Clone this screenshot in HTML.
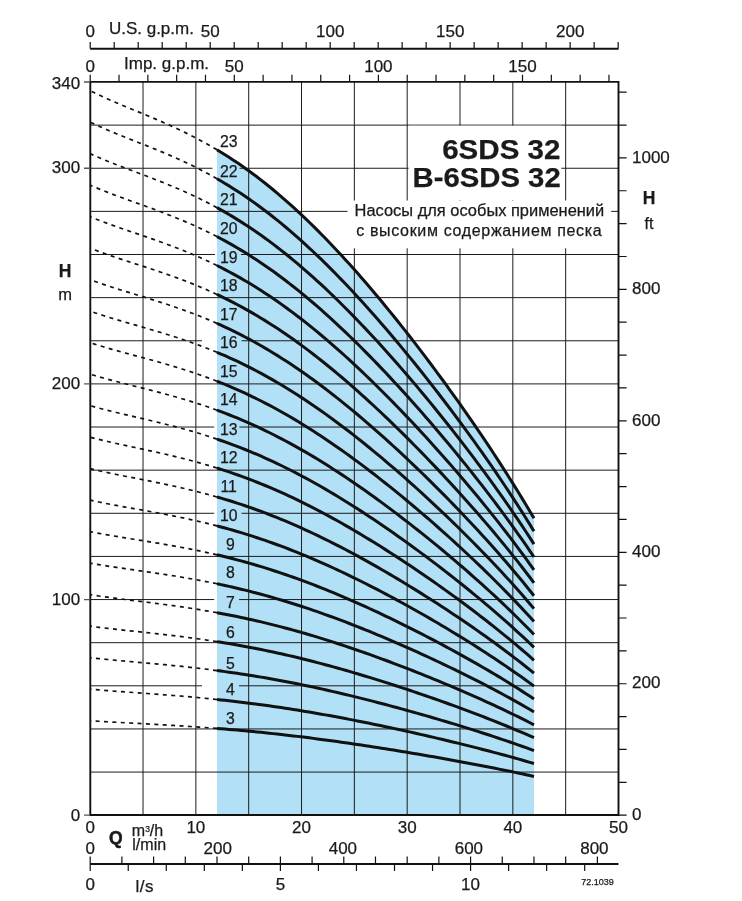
<!DOCTYPE html><html><head><meta charset="utf-8"><style>html,body{margin:0;padding:0;background:#fff}svg{display:block;will-change:transform}text{stroke:#1a1a1a;stroke-width:0.25px}</style></head><body><svg width="742" height="901" viewBox="0 0 742 901" font-family="'Liberation Sans', Arial, Helvetica, sans-serif" fill="#1a1a1a">
<rect width="742" height="901" fill="#fff"/>
<path d="M216.99,815.20 L216.99,149.80 L219.66,151.41 L222.32,153.05 L224.98,154.71 L227.65,156.40 L230.31,158.12 L232.97,159.87 L235.64,161.64 L238.30,163.45 L240.97,165.28 L243.63,167.14 L246.29,169.03 L248.96,170.96 L251.62,172.91 L254.28,174.88 L256.95,176.89 L259.61,178.93 L262.27,181.00 L264.94,183.10 L267.60,185.22 L270.27,187.38 L272.93,189.56 L275.59,191.78 L278.26,194.02 L280.92,196.29 L283.58,198.60 L286.25,200.93 L288.91,203.28 L291.58,205.67 L294.24,208.09 L296.90,210.53 L299.57,213.00 L302.23,215.50 L304.89,218.03 L307.56,220.58 L310.22,223.16 L312.89,225.77 L315.55,228.40 L318.21,231.06 L320.88,233.75 L323.54,236.46 L326.20,239.20 L328.87,241.96 L331.53,244.75 L334.19,247.56 L336.86,250.40 L339.52,253.26 L342.19,256.14 L344.85,259.05 L347.51,261.98 L350.18,264.94 L352.84,267.92 L355.50,270.92 L358.17,273.94 L360.83,276.98 L363.50,280.05 L366.16,283.13 L368.82,286.24 L371.49,289.37 L374.15,292.52 L376.81,295.69 L379.48,298.88 L382.14,302.09 L384.80,305.32 L387.47,308.57 L390.13,311.84 L392.80,315.13 L395.46,318.44 L398.12,321.76 L400.79,325.11 L403.45,328.47 L406.11,331.85 L408.78,335.25 L411.44,338.67 L414.11,342.11 L416.77,345.56 L419.43,349.03 L422.10,352.52 L424.76,356.03 L427.42,359.56 L430.09,363.10 L432.75,366.66 L435.42,370.24 L438.08,373.84 L440.74,377.46 L443.41,381.10 L446.07,384.75 L448.73,388.42 L451.40,392.11 L454.06,395.82 L456.72,399.55 L459.39,403.30 L462.05,407.07 L464.72,410.86 L467.38,414.67 L470.04,418.51 L472.71,422.36 L475.37,426.23 L478.03,430.13 L480.70,434.05 L483.36,437.99 L486.03,441.96 L488.69,445.95 L491.35,449.97 L494.02,454.01 L496.68,458.08 L499.34,462.17 L502.01,466.30 L504.67,470.45 L507.34,474.63 L510.00,478.84 L512.66,483.08 L515.33,487.36 L517.99,491.66 L520.65,496.01 L523.32,500.38 L525.98,504.80 L528.64,509.25 L531.31,513.73 L533.97,518.26 L533.97,815.20 Z" fill="#b2e0f6"/>
<path d="M143.03,81.99V815.20M195.86,81.99V815.20M248.69,81.99V815.20M301.52,81.99V815.20M354.35,81.99V815.20M407.18,81.99V815.20M460.01,81.99V815.20M512.84,81.99V815.20M565.67,81.99V815.20M90.20,772.07H618.50M90.20,728.94H618.50M90.20,685.81H618.50M90.20,642.68H618.50M90.20,599.55H618.50M90.20,556.42H618.50M90.20,513.29H618.50M90.20,470.16H618.50M90.20,427.03H618.50M90.20,383.90H618.50M90.20,340.77H618.50M90.20,297.64H618.50M90.20,254.51H618.50M90.20,211.38H618.50M90.20,168.25H618.50M90.20,125.12H618.50" stroke="#1c1c1c" stroke-width="1" fill="none"/>
<rect x="408.6" y="125.7" width="152.7" height="74.3" fill="#fff"/>
<rect x="347.5" y="200.5" width="263.7" height="47.8" fill="#fff"/>
<rect x="212.5" y="165.5" width="4.49" height="12.300000000000011" fill="#fff"/>
<rect x="216.99" y="165.5" width="22.51" height="12.300000000000011" fill="#b2e0f6"/>
<rect x="215" y="252.0" width="1.99" height="12.0" fill="#fff"/>
<rect x="216.99" y="252.0" width="24.01" height="12.0" fill="#b2e0f6"/>
<rect x="202" y="335.9" width="14.99" height="13.0" fill="#fff"/>
<rect x="216.99" y="335.9" width="24.61" height="13.0" fill="#b2e0f6"/>
<rect x="214.2" y="423.0" width="2.79" height="12.699999999999989" fill="#fff"/>
<rect x="216.99" y="423.0" width="22.41" height="12.699999999999989" fill="#b2e0f6"/>
<rect x="214.2" y="509.0" width="2.79" height="12.700000000000045" fill="#fff"/>
<rect x="216.99" y="509.0" width="24.61" height="12.700000000000045" fill="#b2e0f6"/>
<rect x="214.2" y="596.1" width="2.79" height="12.699999999999932" fill="#fff"/>
<rect x="216.99" y="596.1" width="22.11" height="12.699999999999932" fill="#b2e0f6"/>
<rect x="202" y="683.3" width="14.99" height="12.5" fill="#fff"/>
<rect x="216.99" y="683.3" width="22.01" height="12.5" fill="#b2e0f6"/>
<path d="M216.99,728.41 L212.62,728.07 L208.25,727.74 L203.88,727.43 L199.50,727.12 L195.13,726.81 L190.76,726.52 L186.39,726.23 L182.01,725.96 L177.64,725.68 L173.27,725.42 L168.90,725.16 L164.53,724.90 L160.15,724.66 L155.78,724.41 L151.41,724.17 L147.04,723.93 L142.67,723.69 L138.29,723.46 L133.92,723.22 L129.55,722.99 L125.18,722.75 L120.80,722.51 L116.43,722.27 L112.06,722.03 L107.69,721.77 L103.32,721.52 L98.94,721.25 L94.57,720.98 L90.20,720.70 M216.99,699.48 L212.62,699.03 L208.25,698.59 L203.88,698.17 L199.50,697.75 L195.13,697.35 L190.76,696.96 L186.39,696.58 L182.01,696.21 L177.64,695.85 L173.27,695.49 L168.90,695.15 L164.53,694.81 L160.15,694.47 L155.78,694.15 L151.41,693.82 L147.04,693.51 L142.67,693.19 L138.29,692.88 L133.92,692.56 L129.55,692.25 L125.18,691.93 L120.80,691.62 L116.43,691.29 L112.06,690.97 L107.69,690.63 L103.32,690.29 L98.94,689.94 L94.57,689.57 L90.20,689.20 M216.99,670.55 L212.62,669.99 L208.25,669.44 L203.88,668.91 L199.50,668.39 L195.13,667.89 L190.76,667.40 L186.39,666.92 L182.01,666.46 L177.64,666.01 L173.27,665.56 L168.90,665.13 L164.53,664.71 L160.15,664.29 L155.78,663.88 L151.41,663.48 L147.04,663.08 L142.67,662.69 L138.29,662.30 L133.92,661.90 L129.55,661.51 L125.18,661.12 L120.80,660.72 L116.43,660.32 L112.06,659.91 L107.69,659.49 L103.32,659.06 L98.94,658.62 L94.57,658.17 L90.20,657.69 M216.99,641.62 L212.62,640.94 L208.25,640.29 L203.88,639.65 L199.50,639.03 L195.13,638.43 L190.76,637.84 L186.39,637.27 L182.01,636.71 L177.64,636.17 L173.27,635.64 L168.90,635.12 L164.53,634.61 L160.15,634.11 L155.78,633.62 L151.41,633.14 L147.04,632.66 L142.67,632.18 L138.29,631.71 L133.92,631.24 L129.55,630.77 L125.18,630.30 L120.80,629.83 L116.43,629.34 L112.06,628.85 L107.69,628.35 L103.32,627.84 L98.94,627.31 L94.57,626.76 L90.20,626.19 M216.99,612.69 L212.62,611.90 L208.25,611.14 L203.88,610.39 L199.50,609.67 L195.13,608.97 L190.76,608.28 L186.39,607.61 L182.01,606.96 L177.64,606.33 L173.27,605.71 L168.90,605.10 L164.53,604.51 L160.15,603.93 L155.78,603.36 L151.41,602.79 L147.04,602.23 L142.67,601.68 L138.29,601.13 L133.92,600.59 L129.55,600.04 L125.18,599.49 L120.80,598.93 L116.43,598.37 L112.06,597.79 L107.69,597.21 L103.32,596.61 L98.94,595.99 L94.57,595.35 L90.20,594.69 M216.99,583.76 L212.62,582.86 L208.25,581.99 L203.88,581.14 L199.50,580.31 L195.13,579.50 L190.76,578.72 L186.39,577.96 L182.01,577.22 L177.64,576.49 L173.27,575.78 L168.90,575.09 L164.53,574.41 L160.15,573.75 L155.78,573.09 L151.41,572.45 L147.04,571.81 L142.67,571.18 L138.29,570.55 L133.92,569.93 L129.55,569.30 L125.18,568.67 L120.80,568.03 L116.43,567.39 L112.06,566.73 L107.69,566.07 L103.32,565.38 L98.94,564.68 L94.57,563.95 L90.20,563.19 M216.99,554.83 L212.62,553.82 L208.25,552.83 L203.88,551.88 L199.50,550.95 L195.13,550.04 L190.76,549.16 L186.39,548.30 L182.01,547.47 L177.64,546.65 L173.27,545.86 L168.90,545.08 L164.53,544.31 L160.15,543.57 L155.78,542.83 L151.41,542.10 L147.04,541.39 L142.67,540.68 L138.29,539.97 L133.92,539.27 L129.55,538.56 L125.18,537.85 L120.80,537.14 L116.43,536.41 L112.06,535.68 L107.69,534.92 L103.32,534.15 L98.94,533.36 L94.57,532.54 L90.20,531.69 M216.99,525.90 L212.62,524.77 L208.25,523.68 L203.88,522.62 L199.50,521.59 L195.13,520.58 L190.76,519.60 L186.39,518.65 L182.01,517.72 L177.64,516.81 L173.27,515.93 L168.90,515.06 L164.53,514.22 L160.15,513.38 L155.78,512.57 L151.41,511.76 L147.04,510.96 L142.67,510.17 L138.29,509.39 L133.92,508.61 L129.55,507.82 L125.18,507.04 L120.80,506.24 L116.43,505.44 L112.06,504.62 L107.69,503.78 L103.32,502.93 L98.94,502.04 L94.57,501.13 L90.20,500.19 M216.99,496.97 L212.62,495.73 L208.25,494.53 L203.88,493.36 L199.50,492.22 L195.13,491.12 L190.76,490.04 L186.39,488.99 L182.01,487.97 L177.64,486.97 L173.27,486.00 L168.90,485.05 L164.53,484.12 L160.15,483.20 L155.78,482.30 L151.41,481.42 L147.04,480.54 L142.67,479.67 L138.29,478.81 L133.92,477.95 L129.55,477.09 L125.18,476.22 L120.80,475.35 L116.43,474.46 L112.06,473.56 L107.69,472.64 L103.32,471.70 L98.94,470.73 L94.57,469.73 L90.20,468.69 M216.99,468.04 L212.62,466.69 L208.25,465.38 L203.88,464.10 L199.50,462.86 L195.13,461.66 L190.76,460.48 L186.39,459.34 L182.01,458.22 L177.64,457.14 L173.27,456.07 L168.90,455.04 L164.53,454.02 L160.15,453.02 L155.78,452.04 L151.41,451.07 L147.04,450.12 L142.67,449.17 L138.29,448.23 L133.92,447.29 L129.55,446.35 L125.18,445.40 L120.80,444.45 L116.43,443.48 L112.06,442.50 L107.69,441.50 L103.32,440.47 L98.94,439.41 L94.57,438.32 L90.20,437.19 M216.99,439.11 L212.62,437.65 L208.25,436.23 L203.88,434.84 L199.50,433.50 L195.13,432.19 L190.76,430.92 L186.39,429.68 L182.01,428.47 L177.64,427.30 L173.27,426.15 L168.90,425.02 L164.53,423.92 L160.15,422.84 L155.78,421.78 L151.41,420.73 L147.04,419.69 L142.67,418.67 L138.29,417.65 L133.92,416.63 L129.55,415.61 L125.18,414.59 L120.80,413.55 L116.43,412.51 L112.06,411.44 L107.69,410.36 L103.32,409.24 L98.94,408.10 L94.57,406.91 L90.20,405.69 M216.99,410.18 L212.62,408.60 L208.25,407.07 L203.88,405.59 L199.50,404.14 L195.13,402.73 L190.76,401.36 L186.39,400.03 L182.01,398.73 L177.64,397.46 L173.27,396.22 L168.90,395.01 L164.53,393.82 L160.15,392.66 L155.78,391.51 L151.41,390.38 L147.04,389.27 L142.67,388.16 L138.29,387.07 L133.92,385.97 L129.55,384.87 L125.18,383.77 L120.80,382.66 L116.43,381.53 L112.06,380.39 L107.69,379.22 L103.32,378.02 L98.94,376.78 L94.57,375.51 L90.20,374.19 M216.99,381.24 L212.62,379.56 L208.25,377.92 L203.88,376.33 L199.50,374.78 L195.13,373.27 L190.76,371.80 L186.39,370.37 L182.01,368.98 L177.64,367.62 L173.27,366.29 L168.90,364.99 L164.53,363.72 L160.15,362.48 L155.78,361.25 L151.41,360.04 L147.04,358.85 L142.67,357.66 L138.29,356.49 L133.92,355.31 L129.55,354.14 L125.18,352.95 L120.80,351.76 L116.43,350.56 L112.06,349.33 L107.69,348.07 L103.32,346.79 L98.94,345.47 L94.57,344.10 L90.20,342.68 M216.99,352.31 L212.62,350.52 L208.25,348.77 L203.88,347.07 L199.50,345.42 L195.13,343.81 L190.76,342.24 L186.39,340.72 L182.01,339.23 L177.64,337.78 L173.27,336.36 L168.90,334.98 L164.53,333.62 L160.15,332.29 L155.78,330.99 L151.41,329.70 L147.04,328.42 L142.67,327.16 L138.29,325.90 L133.92,324.65 L129.55,323.40 L125.18,322.14 L120.80,320.87 L116.43,319.58 L112.06,318.27 L107.69,316.93 L103.32,315.56 L98.94,314.15 L94.57,312.69 L90.20,311.18 M216.99,323.38 L212.62,321.48 L208.25,319.62 L203.88,317.81 L199.50,316.06 L195.13,314.35 L190.76,312.68 L186.39,311.06 L182.01,309.48 L177.64,307.94 L173.27,306.44 L168.90,304.97 L164.53,303.53 L160.15,302.11 L155.78,300.72 L151.41,299.35 L147.04,298.00 L142.67,296.66 L138.29,295.32 L133.92,293.99 L129.55,292.66 L125.18,291.32 L120.80,289.97 L116.43,288.60 L112.06,287.21 L107.69,285.79 L103.32,284.33 L98.94,282.84 L94.57,281.29 L90.20,279.68 M216.99,294.45 L212.62,292.43 L208.25,290.47 L203.88,288.55 L199.50,286.69 L195.13,284.88 L190.76,283.12 L186.39,281.41 L182.01,279.73 L177.64,278.10 L173.27,276.51 L168.90,274.95 L164.53,273.43 L160.15,271.93 L155.78,270.46 L151.41,269.01 L147.04,267.58 L142.67,266.15 L138.29,264.74 L133.92,263.33 L129.55,261.92 L125.18,260.51 L120.80,259.08 L116.43,257.63 L112.06,256.15 L107.69,254.65 L103.32,253.11 L98.94,251.52 L94.57,249.88 L90.20,248.18 M216.99,265.52 L212.62,263.39 L208.25,261.31 L203.88,259.30 L199.50,257.33 L195.13,255.42 L190.76,253.56 L186.39,251.75 L182.01,249.99 L177.64,248.26 L173.27,246.58 L168.90,244.94 L164.53,243.33 L160.15,241.75 L155.78,240.20 L151.41,238.66 L147.04,237.15 L142.67,235.65 L138.29,234.16 L133.92,232.67 L129.55,231.19 L125.18,229.69 L120.80,228.18 L116.43,226.65 L112.06,225.09 L107.69,223.51 L103.32,221.88 L98.94,220.20 L94.57,218.47 L90.20,216.68 M216.99,236.59 L212.62,234.35 L208.25,232.16 L203.88,230.04 L199.50,227.97 L195.13,225.96 L190.76,224.00 L186.39,222.10 L182.01,220.24 L177.64,218.43 L173.27,216.66 L168.90,214.93 L164.53,213.23 L160.15,211.57 L155.78,209.93 L151.41,208.32 L147.04,206.73 L142.67,205.15 L138.29,203.58 L133.92,202.01 L129.55,200.45 L125.18,198.87 L120.80,197.28 L116.43,195.67 L112.06,194.04 L107.69,192.37 L103.32,190.65 L98.94,188.89 L94.57,187.07 L90.20,185.18 M216.99,207.66 L212.62,205.30 L208.25,203.01 L203.88,200.78 L199.50,198.61 L195.13,196.50 L190.76,194.44 L186.39,192.44 L182.01,190.49 L177.64,188.59 L173.27,186.73 L168.90,184.91 L164.53,183.13 L160.15,181.39 L155.78,179.67 L151.41,177.98 L147.04,176.30 L142.67,174.65 L138.29,173.00 L133.92,171.36 L129.55,169.71 L125.18,168.06 L120.80,166.39 L116.43,164.70 L112.06,162.98 L107.69,161.22 L103.32,159.42 L98.94,157.57 L94.57,155.66 L90.20,153.68 M216.99,178.73 L212.62,176.26 L208.25,173.86 L203.88,171.52 L199.50,169.25 L195.13,167.04 L190.76,164.88 L186.39,162.79 L182.01,160.74 L177.64,158.75 L173.27,156.80 L168.90,154.90 L164.53,153.03 L160.15,151.20 L155.78,149.41 L151.41,147.63 L147.04,145.88 L142.67,144.14 L138.29,142.42 L133.92,140.70 L129.55,138.97 L125.18,137.24 L120.80,135.49 L116.43,133.72 L112.06,131.92 L107.69,130.08 L103.32,128.20 L98.94,126.26 L94.57,124.25 L90.20,122.18 M216.99,149.80 L212.62,147.22 L208.25,144.71 L203.88,142.26 L199.50,139.89 L195.13,137.57 L190.76,135.32 L186.39,133.13 L182.01,130.99 L177.64,128.91 L173.27,126.87 L168.90,124.88 L164.53,122.93 L160.15,121.02 L155.78,119.14 L151.41,117.29 L147.04,115.46 L142.67,113.64 L138.29,111.84 L133.92,110.04 L129.55,108.23 L125.18,106.42 L120.80,104.60 L116.43,102.74 L112.06,100.86 L107.69,98.94 L103.32,96.97 L98.94,94.94 L94.57,92.85 L90.20,90.68" stroke="#111" stroke-width="1.7" fill="none" stroke-dasharray="4 4.4"/>
<path d="M216.99,728.41 L221.00,728.73 L225.02,729.05 L229.03,729.39 L233.04,729.73 L237.05,730.08 L241.07,730.44 L245.08,730.80 L249.09,731.18 L253.10,731.57 L257.12,731.96 L261.13,732.36 L265.14,732.77 L269.15,733.19 L273.17,733.62 L277.18,734.06 L281.19,734.50 L285.20,734.96 L289.22,735.42 L293.23,735.89 L297.24,736.37 L301.25,736.86 L305.26,737.35 L309.28,737.86 L313.29,738.37 L317.30,738.89 L321.31,739.42 L325.33,739.95 L329.34,740.49 L333.35,741.04 L337.36,741.60 L341.38,742.16 L345.39,742.74 L349.40,743.31 L353.41,743.90 L357.43,744.49 L361.44,745.09 L365.45,745.69 L369.46,746.30 L373.48,746.92 L377.49,747.54 L381.50,748.17 L385.51,748.81 L389.53,749.45 L393.54,750.09 L397.55,750.75 L401.56,751.40 L405.58,752.07 L409.59,752.73 L413.60,753.41 L417.61,754.09 L421.62,754.77 L425.64,755.46 L429.65,756.15 L433.66,756.85 L437.67,757.56 L441.69,758.27 L445.70,758.99 L449.71,759.71 L453.72,760.44 L457.74,761.17 L461.75,761.91 L465.76,762.66 L469.77,763.41 L473.79,764.16 L477.80,764.93 L481.81,765.70 L485.82,766.48 L489.84,767.26 L493.85,768.05 L497.86,768.85 L501.87,769.66 L505.89,770.48 L509.90,771.31 L513.91,772.14 L517.92,772.99 L521.93,773.84 L525.95,774.71 L529.96,775.58 L533.97,776.47 M216.99,699.48 L221.00,699.90 L225.02,700.34 L229.03,700.78 L233.04,701.24 L237.05,701.70 L241.07,702.18 L245.08,702.67 L249.09,703.17 L253.10,703.69 L257.12,704.21 L261.13,704.75 L265.14,705.30 L269.15,705.86 L273.17,706.43 L277.18,707.01 L281.19,707.60 L285.20,708.21 L289.22,708.83 L293.23,709.45 L297.24,710.09 L301.25,710.74 L305.26,711.41 L309.28,712.08 L313.29,712.76 L317.30,713.45 L321.31,714.16 L325.33,714.87 L329.34,715.59 L333.35,716.32 L337.36,717.07 L341.38,717.82 L345.39,718.58 L349.40,719.35 L353.41,720.13 L357.43,720.92 L361.44,721.72 L365.45,722.52 L369.46,723.34 L373.48,724.16 L377.49,724.99 L381.50,725.83 L385.51,726.68 L389.53,727.53 L393.54,728.39 L397.55,729.26 L401.56,730.14 L405.58,731.02 L409.59,731.91 L413.60,732.81 L417.61,733.71 L421.62,734.63 L425.64,735.55 L429.65,736.47 L433.66,737.41 L437.67,738.35 L441.69,739.30 L445.70,740.25 L449.71,741.21 L453.72,742.18 L457.74,743.16 L461.75,744.15 L465.76,745.14 L469.77,746.14 L473.79,747.15 L477.80,748.17 L481.81,749.20 L485.82,750.24 L489.84,751.28 L493.85,752.34 L497.86,753.41 L501.87,754.48 L505.89,755.57 L509.90,756.67 L513.91,757.79 L517.92,758.91 L521.93,760.05 L525.95,761.21 L529.96,762.38 L533.97,763.56 M216.99,670.55 L221.00,671.08 L225.02,671.62 L229.03,672.18 L233.04,672.75 L237.05,673.33 L241.07,673.93 L245.08,674.54 L249.09,675.17 L253.10,675.81 L257.12,676.47 L261.13,677.14 L265.14,677.82 L269.15,678.52 L273.17,679.23 L277.18,679.96 L281.19,680.71 L285.20,681.46 L289.22,682.23 L293.23,683.02 L297.24,683.82 L301.25,684.63 L305.26,685.46 L309.28,686.30 L313.29,687.15 L317.30,688.02 L321.31,688.89 L325.33,689.79 L329.34,690.69 L333.35,691.61 L337.36,692.53 L341.38,693.47 L345.39,694.43 L349.40,695.39 L353.41,696.37 L357.43,697.35 L361.44,698.35 L365.45,699.35 L369.46,700.37 L373.48,701.40 L377.49,702.44 L381.50,703.49 L385.51,704.54 L389.53,705.61 L393.54,706.69 L397.55,707.78 L401.56,708.87 L405.58,709.98 L409.59,711.09 L413.60,712.21 L417.61,713.34 L421.62,714.48 L425.64,715.63 L429.65,716.79 L433.66,717.96 L437.67,719.13 L441.69,720.32 L445.70,721.51 L449.71,722.72 L453.72,723.93 L457.74,725.15 L461.75,726.38 L465.76,727.63 L469.77,728.88 L473.79,730.14 L477.80,731.41 L481.81,732.70 L485.82,734.00 L489.84,735.30 L493.85,736.62 L497.86,737.96 L501.87,739.31 L505.89,740.67 L509.90,742.04 L513.91,743.43 L517.92,744.84 L521.93,746.27 L525.95,747.71 L529.96,749.17 L533.97,750.65 M216.99,641.62 L221.00,642.25 L225.02,642.90 L229.03,643.57 L233.04,644.26 L237.05,644.96 L241.07,645.67 L245.08,646.41 L249.09,647.16 L253.10,647.93 L257.12,648.72 L261.13,649.52 L265.14,650.35 L269.15,651.18 L273.17,652.04 L277.18,652.92 L281.19,653.81 L285.20,654.71 L289.22,655.64 L293.23,656.58 L297.24,657.54 L301.25,658.52 L305.26,659.51 L309.28,660.52 L313.29,661.54 L317.30,662.58 L321.31,663.63 L325.33,664.70 L329.34,665.79 L333.35,666.89 L337.36,668.00 L341.38,669.13 L345.39,670.27 L349.40,671.43 L353.41,672.60 L357.43,673.78 L361.44,674.98 L365.45,676.19 L369.46,677.41 L373.48,678.64 L377.49,679.89 L381.50,681.14 L385.51,682.41 L389.53,683.69 L393.54,684.99 L397.55,686.29 L401.56,687.60 L405.58,688.93 L409.59,690.27 L413.60,691.61 L417.61,692.97 L421.62,694.34 L425.64,695.72 L429.65,697.11 L433.66,698.51 L437.67,699.92 L441.69,701.34 L445.70,702.78 L449.71,704.22 L453.72,705.67 L457.74,707.14 L461.75,708.62 L465.76,710.11 L469.77,711.61 L473.79,713.13 L477.80,714.66 L481.81,716.20 L485.82,717.75 L489.84,719.32 L493.85,720.91 L497.86,722.51 L501.87,724.13 L505.89,725.76 L509.90,727.41 L513.91,729.08 L517.92,730.77 L521.93,732.48 L525.95,734.21 L529.96,735.96 L533.97,737.74 M216.99,612.69 L221.00,613.43 L225.02,614.19 L229.03,614.97 L233.04,615.76 L237.05,616.58 L241.07,617.42 L245.08,618.28 L249.09,619.16 L253.10,620.05 L257.12,620.97 L261.13,621.91 L265.14,622.87 L269.15,623.85 L273.17,624.85 L277.18,625.87 L281.19,626.91 L285.20,627.97 L289.22,629.05 L293.23,630.15 L297.24,631.26 L301.25,632.40 L305.26,633.56 L309.28,634.73 L313.29,635.93 L317.30,637.14 L321.31,638.37 L325.33,639.62 L329.34,640.89 L333.35,642.17 L337.36,643.47 L341.38,644.78 L345.39,646.12 L349.40,647.47 L353.41,648.83 L357.43,650.21 L361.44,651.61 L365.45,653.02 L369.46,654.44 L373.48,655.88 L377.49,657.33 L381.50,658.80 L385.51,660.28 L389.53,661.78 L393.54,663.28 L397.55,664.81 L401.56,666.34 L405.58,667.89 L409.59,669.44 L413.60,671.02 L417.61,672.60 L421.62,674.20 L425.64,675.81 L429.65,677.43 L433.66,679.06 L437.67,680.71 L441.69,682.37 L445.70,684.04 L449.71,685.72 L453.72,687.42 L457.74,689.13 L461.75,690.86 L465.76,692.60 L469.77,694.35 L473.79,696.12 L477.80,697.90 L481.81,699.70 L485.82,701.51 L489.84,703.34 L493.85,705.19 L497.86,707.06 L501.87,708.95 L505.89,710.85 L509.90,712.78 L513.91,714.73 L517.92,716.70 L521.93,718.69 L525.95,720.71 L529.96,722.76 L533.97,724.83 M216.99,583.76 L221.00,584.60 L225.02,585.47 L229.03,586.36 L233.04,587.27 L237.05,588.21 L241.07,589.17 L245.08,590.15 L249.09,591.15 L253.10,592.18 L257.12,593.22 L261.13,594.30 L265.14,595.39 L269.15,596.51 L273.17,597.66 L277.18,598.82 L281.19,600.01 L285.20,601.22 L289.22,602.45 L293.23,603.71 L297.24,604.99 L301.25,606.29 L305.26,607.61 L309.28,608.95 L313.29,610.32 L317.30,611.70 L321.31,613.11 L325.33,614.54 L329.34,615.98 L333.35,617.45 L337.36,618.94 L341.38,620.44 L345.39,621.96 L349.40,623.50 L353.41,625.06 L357.43,626.64 L361.44,628.24 L365.45,629.85 L369.46,631.48 L373.48,633.12 L377.49,634.78 L381.50,636.46 L385.51,638.15 L389.53,639.86 L393.54,641.58 L397.55,643.32 L401.56,645.07 L405.58,646.84 L409.59,648.62 L413.60,650.42 L417.61,652.23 L421.62,654.05 L425.64,655.89 L429.65,657.75 L433.66,659.61 L437.67,661.49 L441.69,663.39 L445.70,665.30 L449.71,667.23 L453.72,669.17 L457.74,671.12 L461.75,673.09 L465.76,675.08 L469.77,677.08 L473.79,679.10 L477.80,681.14 L481.81,683.20 L485.82,685.27 L489.84,687.37 L493.85,689.48 L497.86,691.61 L501.87,693.77 L505.89,695.95 L509.90,698.15 L513.91,700.38 L517.92,702.63 L521.93,704.91 L525.95,707.21 L529.96,709.55 L533.97,711.92 M216.99,554.83 L221.00,555.78 L225.02,556.76 L229.03,557.76 L233.04,558.78 L237.05,559.83 L241.07,560.91 L245.08,562.01 L249.09,563.14 L253.10,564.30 L257.12,565.48 L261.13,566.68 L265.14,567.92 L269.15,569.18 L273.17,570.46 L277.18,571.77 L281.19,573.11 L285.20,574.47 L289.22,575.86 L293.23,577.27 L297.24,578.71 L301.25,580.17 L305.26,581.66 L309.28,583.17 L313.29,584.71 L317.30,586.27 L321.31,587.85 L325.33,589.45 L329.34,591.08 L333.35,592.73 L337.36,594.40 L341.38,596.09 L345.39,597.81 L349.40,599.54 L353.41,601.30 L357.43,603.07 L361.44,604.87 L365.45,606.68 L369.46,608.51 L373.48,610.36 L377.49,612.23 L381.50,614.12 L385.51,616.02 L389.53,617.94 L393.54,619.88 L397.55,621.84 L401.56,623.81 L405.58,625.80 L409.59,627.80 L413.60,629.82 L417.61,631.86 L421.62,633.91 L425.64,635.98 L429.65,638.06 L433.66,640.16 L437.67,642.28 L441.69,644.41 L445.70,646.56 L449.71,648.73 L453.72,650.91 L457.74,653.11 L461.75,655.33 L465.76,657.57 L469.77,659.82 L473.79,662.09 L477.80,664.39 L481.81,666.70 L485.82,669.03 L489.84,671.39 L493.85,673.76 L497.86,676.16 L501.87,678.59 L505.89,681.04 L509.90,683.52 L513.91,686.02 L517.92,688.56 L521.93,691.12 L525.95,693.72 L529.96,696.34 L533.97,699.01 M216.99,525.90 L221.00,526.95 L225.02,528.04 L229.03,529.15 L233.04,530.29 L237.05,531.46 L241.07,532.66 L245.08,533.88 L249.09,535.14 L253.10,536.42 L257.12,537.73 L261.13,539.07 L265.14,540.44 L269.15,541.84 L273.17,543.27 L277.18,544.73 L281.19,546.21 L285.20,547.72 L289.22,549.27 L293.23,550.84 L297.24,552.44 L301.25,554.06 L305.26,555.71 L309.28,557.39 L313.29,559.10 L317.30,560.83 L321.31,562.59 L325.33,564.37 L329.34,566.18 L333.35,568.01 L337.36,569.87 L341.38,571.75 L345.39,573.65 L349.40,575.58 L353.41,577.53 L357.43,579.50 L361.44,581.50 L365.45,583.51 L369.46,585.55 L373.48,587.60 L377.49,589.68 L381.50,591.77 L385.51,593.89 L389.53,596.02 L393.54,598.18 L397.55,600.35 L401.56,602.54 L405.58,604.75 L409.59,606.98 L413.60,609.22 L417.61,611.49 L421.62,613.77 L425.64,616.07 L429.65,618.38 L433.66,620.72 L437.67,623.07 L441.69,625.44 L445.70,627.83 L449.71,630.23 L453.72,632.66 L457.74,635.10 L461.75,637.57 L465.76,640.05 L469.77,642.56 L473.79,645.08 L477.80,647.63 L481.81,650.20 L485.82,652.79 L489.84,655.41 L493.85,658.05 L497.86,660.72 L501.87,663.41 L505.89,666.13 L509.90,668.89 L513.91,671.67 L517.92,674.48 L521.93,677.33 L525.95,680.22 L529.96,683.14 L533.97,686.10 M216.99,496.97 L221.00,498.13 L225.02,499.32 L229.03,500.55 L233.04,501.80 L237.05,503.09 L241.07,504.40 L245.08,505.75 L249.09,507.13 L253.10,508.54 L257.12,509.98 L261.13,511.46 L265.14,512.97 L269.15,514.51 L273.17,516.08 L277.18,517.68 L281.19,519.31 L285.20,520.98 L289.22,522.67 L293.23,524.40 L297.24,526.16 L301.25,527.95 L305.26,529.76 L309.28,531.61 L313.29,533.49 L317.30,535.39 L321.31,537.33 L325.33,539.29 L329.34,541.28 L333.35,543.29 L337.36,545.34 L341.38,547.40 L345.39,549.50 L349.40,551.62 L353.41,553.76 L357.43,555.93 L361.44,558.12 L365.45,560.34 L369.46,562.58 L373.48,564.84 L377.49,567.13 L381.50,569.43 L385.51,571.76 L389.53,574.11 L393.54,576.48 L397.55,578.87 L401.56,581.28 L405.58,583.71 L409.59,586.16 L413.60,588.63 L417.61,591.11 L421.62,593.62 L425.64,596.15 L429.65,598.70 L433.66,601.27 L437.67,603.85 L441.69,606.46 L445.70,609.09 L449.71,611.74 L453.72,614.40 L457.74,617.09 L461.75,619.80 L465.76,622.54 L469.77,625.29 L473.79,628.07 L477.80,630.87 L481.81,633.70 L485.82,636.55 L489.84,639.43 L493.85,642.33 L497.86,645.27 L501.87,648.23 L505.89,651.23 L509.90,654.26 L513.91,657.32 L517.92,660.41 L521.93,663.55 L525.95,666.72 L529.96,669.93 L533.97,673.19 M216.99,468.04 L221.00,469.31 L225.02,470.61 L229.03,471.94 L233.04,473.31 L237.05,474.71 L241.07,476.15 L245.08,477.62 L249.09,479.12 L253.10,480.66 L257.12,482.24 L261.13,483.85 L265.14,485.49 L269.15,487.17 L273.17,488.88 L277.18,490.63 L281.19,492.41 L285.20,494.23 L289.22,496.08 L293.23,497.96 L297.24,499.88 L301.25,501.83 L305.26,503.82 L309.28,505.83 L313.29,507.88 L317.30,509.96 L321.31,512.07 L325.33,514.21 L329.34,516.38 L333.35,518.57 L337.36,520.80 L341.38,523.06 L345.39,525.34 L349.40,527.66 L353.41,530.00 L357.43,532.36 L361.44,534.75 L365.45,537.17 L369.46,539.61 L373.48,542.08 L377.49,544.57 L381.50,547.09 L385.51,549.63 L389.53,552.19 L393.54,554.77 L397.55,557.38 L401.56,560.01 L405.58,562.66 L409.59,565.33 L413.60,568.03 L417.61,570.74 L421.62,573.48 L425.64,576.24 L429.65,579.02 L433.66,581.82 L437.67,584.64 L441.69,587.49 L445.70,590.35 L449.71,593.24 L453.72,596.15 L457.74,599.08 L461.75,602.04 L465.76,605.02 L469.77,608.03 L473.79,611.06 L477.80,614.11 L481.81,617.20 L485.82,620.31 L489.84,623.45 L493.85,626.62 L497.86,629.82 L501.87,633.05 L505.89,636.32 L509.90,639.62 L513.91,642.96 L517.92,646.34 L521.93,649.76 L525.95,653.22 L529.96,656.73 L533.97,660.28 M216.99,439.11 L221.00,440.48 L225.02,441.89 L229.03,443.34 L233.04,444.82 L237.05,446.34 L241.07,447.89 L245.08,449.49 L249.09,451.12 L253.10,452.78 L257.12,454.49 L261.13,456.23 L265.14,458.01 L269.15,459.83 L273.17,461.69 L277.18,463.58 L281.19,465.51 L285.20,467.48 L289.22,469.49 L293.23,471.53 L297.24,473.61 L301.25,475.72 L305.26,477.87 L309.28,480.05 L313.29,482.27 L317.30,484.52 L321.31,486.80 L325.33,489.12 L329.34,491.47 L333.35,493.86 L337.36,496.27 L341.38,498.71 L345.39,501.19 L349.40,503.70 L353.41,506.23 L357.43,508.79 L361.44,511.38 L365.45,514.00 L369.46,516.65 L373.48,519.32 L377.49,522.02 L381.50,524.75 L385.51,527.50 L389.53,530.27 L393.54,533.07 L397.55,535.90 L401.56,538.74 L405.58,541.62 L409.59,544.51 L413.60,547.43 L417.61,550.37 L421.62,553.34 L425.64,556.32 L429.65,559.34 L433.66,562.37 L437.67,565.43 L441.69,568.51 L445.70,571.61 L449.71,574.74 L453.72,577.90 L457.74,581.07 L461.75,584.28 L465.76,587.51 L469.77,590.76 L473.79,594.04 L477.80,597.36 L481.81,600.70 L485.82,604.07 L489.84,607.47 L493.85,610.90 L497.86,614.37 L501.87,617.87 L505.89,621.41 L509.90,624.99 L513.91,628.61 L517.92,632.27 L521.93,635.97 L525.95,639.72 L529.96,643.52 L533.97,647.37 M216.99,410.18 L221.00,411.66 L225.02,413.18 L229.03,414.73 L233.04,416.33 L237.05,417.96 L241.07,419.64 L245.08,421.36 L249.09,423.11 L253.10,424.91 L257.12,426.74 L261.13,428.62 L265.14,430.54 L269.15,432.50 L273.17,434.50 L277.18,436.54 L281.19,438.62 L285.20,440.73 L289.22,442.89 L293.23,445.09 L297.24,447.33 L301.25,449.60 L305.26,451.92 L309.28,454.27 L313.29,456.66 L317.30,459.08 L321.31,461.54 L325.33,464.04 L329.34,466.57 L333.35,469.14 L337.36,471.74 L341.38,474.37 L345.39,477.04 L349.40,479.73 L353.41,482.46 L357.43,485.22 L361.44,488.01 L365.45,490.83 L369.46,493.68 L373.48,496.56 L377.49,499.47 L381.50,502.40 L385.51,505.36 L389.53,508.35 L393.54,511.37 L397.55,514.41 L401.56,517.48 L405.58,520.57 L409.59,523.69 L413.60,526.83 L417.61,530.00 L421.62,533.19 L425.64,536.41 L429.65,539.65 L433.66,542.92 L437.67,546.21 L441.69,549.53 L445.70,552.88 L449.71,556.25 L453.72,559.64 L457.74,563.06 L461.75,566.51 L465.76,569.99 L469.77,573.50 L473.79,577.03 L477.80,580.60 L481.81,584.20 L485.82,587.83 L489.84,591.49 L493.85,595.19 L497.86,598.92 L501.87,602.70 L505.89,606.51 L509.90,610.36 L513.91,614.26 L517.92,618.20 L521.93,622.19 L525.95,626.22 L529.96,630.31 L533.97,634.46 M216.99,381.24 L221.00,382.83 L225.02,384.46 L229.03,386.13 L233.04,387.84 L237.05,389.59 L241.07,391.39 L245.08,393.22 L249.09,395.10 L253.10,397.03 L257.12,399.00 L261.13,401.01 L265.14,403.06 L269.15,405.16 L273.17,407.30 L277.18,409.49 L281.19,411.72 L285.20,413.99 L289.22,416.30 L293.23,418.66 L297.24,421.05 L301.25,423.49 L305.26,425.97 L309.28,428.49 L313.29,431.05 L317.30,433.65 L321.31,436.28 L325.33,438.96 L329.34,441.67 L333.35,444.42 L337.36,447.20 L341.38,450.02 L345.39,452.88 L349.40,455.77 L353.41,458.70 L357.43,461.65 L361.44,464.64 L365.45,467.66 L369.46,470.72 L373.48,473.80 L377.49,476.92 L381.50,480.06 L385.51,483.23 L389.53,486.44 L393.54,489.67 L397.55,492.93 L401.56,496.21 L405.58,499.53 L409.59,502.87 L413.60,506.23 L417.61,509.63 L421.62,513.05 L425.64,516.50 L429.65,519.97 L433.66,523.47 L437.67,527.00 L441.69,530.56 L445.70,534.14 L449.71,537.75 L453.72,541.39 L457.74,545.05 L461.75,548.75 L465.76,552.48 L469.77,556.23 L473.79,560.02 L477.80,563.84 L481.81,567.70 L485.82,571.59 L489.84,575.51 L493.85,579.47 L497.86,583.47 L501.87,587.52 L505.89,591.60 L509.90,595.73 L513.91,599.90 L517.92,604.13 L521.93,608.40 L525.95,612.73 L529.96,617.11 L533.97,621.55 M216.99,352.31 L221.00,354.01 L225.02,355.74 L229.03,357.52 L233.04,359.35 L237.05,361.22 L241.07,363.13 L245.08,365.09 L249.09,367.10 L253.10,369.15 L257.12,371.25 L261.13,373.40 L265.14,375.59 L269.15,377.83 L273.17,380.11 L277.18,382.44 L281.19,384.82 L285.20,387.24 L289.22,389.71 L293.23,392.22 L297.24,394.78 L301.25,397.38 L305.26,400.02 L309.28,402.71 L313.29,405.44 L317.30,408.21 L321.31,411.02 L325.33,413.87 L329.34,416.77 L333.35,419.70 L337.36,422.67 L341.38,425.68 L345.39,428.73 L349.40,431.81 L353.41,434.93 L357.43,438.08 L361.44,441.27 L365.45,444.50 L369.46,447.75 L373.48,451.04 L377.49,454.36 L381.50,457.72 L385.51,461.10 L389.53,464.52 L393.54,467.96 L397.55,471.44 L401.56,474.95 L405.58,478.48 L409.59,482.04 L413.60,485.64 L417.61,489.26 L421.62,492.91 L425.64,496.58 L429.65,500.29 L433.66,504.03 L437.67,507.79 L441.69,511.58 L445.70,515.40 L449.71,519.25 L453.72,523.13 L457.74,527.04 L461.75,530.99 L465.76,534.96 L469.77,538.97 L473.79,543.01 L477.80,547.08 L481.81,551.20 L485.82,555.34 L489.84,559.53 L493.85,563.76 L497.86,568.03 L501.87,572.34 L505.89,576.69 L509.90,581.10 L513.91,585.55 L517.92,590.06 L521.93,594.61 L525.95,599.23 L529.96,603.90 L533.97,608.64 M216.99,323.38 L221.00,325.18 L225.02,327.03 L229.03,328.92 L233.04,330.86 L237.05,332.84 L241.07,334.88 L245.08,336.96 L249.09,339.09 L253.10,341.27 L257.12,343.50 L261.13,345.78 L265.14,348.11 L269.15,350.49 L273.17,352.92 L277.18,355.39 L281.19,357.92 L285.20,360.49 L289.22,363.11 L293.23,365.78 L297.24,368.50 L301.25,371.26 L305.26,374.07 L309.28,376.93 L313.29,379.83 L317.30,382.77 L321.31,385.76 L325.33,388.79 L329.34,391.87 L333.35,394.98 L337.36,398.14 L341.38,401.33 L345.39,404.57 L349.40,407.85 L353.41,411.16 L357.43,414.51 L361.44,417.90 L365.45,421.33 L369.46,424.79 L373.48,428.28 L377.49,431.81 L381.50,435.37 L385.51,438.97 L389.53,442.60 L393.54,446.26 L397.55,449.96 L401.56,453.68 L405.58,457.44 L409.59,461.22 L413.60,465.04 L417.61,468.89 L421.62,472.76 L425.64,476.67 L429.65,480.61 L433.66,484.58 L437.67,488.58 L441.69,492.60 L445.70,496.66 L449.71,500.76 L453.72,504.88 L457.74,509.03 L461.75,513.22 L465.76,517.45 L469.77,521.70 L473.79,526.00 L477.80,530.33 L481.81,534.70 L485.82,539.10 L489.84,543.55 L493.85,548.04 L497.86,552.58 L501.87,557.16 L505.89,561.79 L509.90,566.47 L513.91,571.20 L517.92,575.98 L521.93,580.83 L525.95,585.73 L529.96,590.69 L533.97,595.72 M216.99,294.45 L221.00,296.36 L225.02,298.31 L229.03,300.31 L233.04,302.37 L237.05,304.47 L241.07,306.62 L245.08,308.83 L249.09,311.09 L253.10,313.39 L257.12,315.76 L261.13,318.17 L265.14,320.64 L269.15,323.15 L273.17,325.72 L277.18,328.35 L281.19,331.02 L285.20,333.74 L289.22,336.52 L293.23,339.35 L297.24,342.22 L301.25,345.15 L305.26,348.12 L309.28,351.15 L313.29,354.22 L317.30,357.33 L321.31,360.50 L325.33,363.71 L329.34,366.96 L333.35,370.26 L337.36,373.60 L341.38,376.99 L345.39,380.42 L349.40,383.89 L353.41,387.39 L357.43,390.94 L361.44,394.53 L365.45,398.16 L369.46,401.82 L373.48,405.52 L377.49,409.26 L381.50,413.03 L385.51,416.84 L389.53,420.68 L393.54,424.56 L397.55,428.47 L401.56,432.41 L405.58,436.39 L409.59,440.40 L413.60,444.44 L417.61,448.51 L421.62,452.62 L425.64,456.76 L429.65,460.93 L433.66,465.13 L437.67,469.36 L441.69,473.63 L445.70,477.93 L449.71,482.26 L453.72,486.62 L457.74,491.02 L461.75,495.46 L465.76,499.93 L469.77,504.44 L473.79,508.99 L477.80,513.57 L481.81,518.20 L485.82,522.86 L489.84,527.57 L493.85,532.33 L497.86,537.13 L501.87,541.98 L505.89,546.88 L509.90,551.84 L513.91,556.85 L517.92,561.91 L521.93,567.04 L525.95,572.23 L529.96,577.49 L533.97,582.81 M216.99,265.52 L221.00,267.53 L225.02,269.60 L229.03,271.71 L233.04,273.88 L237.05,276.09 L241.07,278.37 L245.08,280.70 L249.09,283.08 L253.10,285.52 L257.12,288.01 L261.13,290.56 L265.14,293.16 L269.15,295.82 L273.17,298.53 L277.18,301.30 L281.19,304.12 L285.20,307.00 L289.22,309.93 L293.23,312.91 L297.24,315.95 L301.25,319.03 L305.26,322.17 L309.28,325.37 L313.29,328.61 L317.30,331.90 L321.31,335.24 L325.33,338.63 L329.34,342.06 L333.35,345.54 L337.36,349.07 L341.38,352.64 L345.39,356.26 L349.40,359.92 L353.41,363.63 L357.43,367.37 L361.44,371.16 L365.45,374.99 L369.46,378.86 L373.48,382.76 L377.49,386.71 L381.50,390.69 L385.51,394.71 L389.53,398.77 L393.54,402.86 L397.55,406.99 L401.56,411.15 L405.58,415.35 L409.59,419.58 L413.60,423.84 L417.61,428.14 L421.62,432.48 L425.64,436.84 L429.65,441.25 L433.66,445.68 L437.67,450.15 L441.69,454.65 L445.70,459.19 L449.71,463.76 L453.72,468.37 L457.74,473.02 L461.75,477.70 L465.76,482.42 L469.77,487.17 L473.79,491.97 L477.80,496.81 L481.81,501.70 L485.82,506.62 L489.84,511.59 L493.85,516.61 L497.86,521.68 L501.87,526.80 L505.89,531.97 L509.90,537.20 L513.91,542.49 L517.92,547.84 L521.93,553.25 L525.95,558.73 L529.96,564.28 L533.97,569.90 M216.99,236.59 L221.00,238.71 L225.02,240.88 L229.03,243.10 L233.04,245.38 L237.05,247.72 L241.07,250.11 L245.08,252.56 L249.09,255.07 L253.10,257.64 L257.12,260.26 L261.13,262.94 L265.14,265.68 L269.15,268.48 L273.17,271.34 L277.18,274.25 L281.19,277.22 L285.20,280.25 L289.22,283.33 L293.23,286.47 L297.24,289.67 L301.25,292.92 L305.26,296.23 L309.28,299.58 L313.29,303.00 L317.30,306.46 L321.31,309.98 L325.33,313.54 L329.34,317.16 L333.35,320.82 L337.36,324.54 L341.38,328.30 L345.39,332.11 L349.40,335.96 L353.41,339.86 L357.43,343.80 L361.44,347.79 L365.45,351.82 L369.46,355.89 L373.48,360.00 L377.49,364.15 L381.50,368.35 L385.51,372.58 L389.53,376.85 L393.54,381.16 L397.55,385.50 L401.56,389.88 L405.58,394.30 L409.59,398.76 L413.60,403.25 L417.61,407.77 L421.62,412.33 L425.64,416.93 L429.65,421.56 L433.66,426.23 L437.67,430.94 L441.69,435.68 L445.70,440.45 L449.71,445.27 L453.72,450.12 L457.74,455.01 L461.75,459.93 L465.76,464.90 L469.77,469.91 L473.79,474.96 L477.80,480.06 L481.81,485.19 L485.82,490.38 L489.84,495.61 L493.85,500.90 L497.86,506.23 L501.87,511.62 L505.89,517.07 L509.90,522.57 L513.91,528.14 L517.92,533.77 L521.93,539.47 L525.95,545.23 L529.96,551.08 L533.97,556.99 M216.99,207.66 L221.00,209.88 L225.02,212.16 L229.03,214.50 L233.04,216.89 L237.05,219.35 L241.07,221.86 L245.08,224.43 L249.09,227.07 L253.10,229.76 L257.12,232.52 L261.13,235.33 L265.14,238.21 L269.15,241.15 L273.17,244.14 L277.18,247.20 L281.19,250.32 L285.20,253.50 L289.22,256.74 L293.23,260.04 L297.24,263.39 L301.25,266.81 L305.26,270.28 L309.28,273.80 L313.29,277.39 L317.30,281.02 L321.31,284.72 L325.33,288.46 L329.34,292.26 L333.35,296.11 L337.36,300.01 L341.38,303.95 L345.39,307.95 L349.40,312.00 L353.41,316.09 L357.43,320.23 L361.44,324.42 L365.45,328.65 L369.46,332.92 L373.48,337.24 L377.49,341.60 L381.50,346.00 L385.51,350.45 L389.53,354.93 L393.54,359.45 L397.55,364.02 L401.56,368.62 L405.58,373.26 L409.59,377.93 L413.60,382.65 L417.61,387.40 L421.62,392.19 L425.64,397.02 L429.65,401.88 L433.66,406.78 L437.67,411.72 L441.69,416.70 L445.70,421.71 L449.71,426.77 L453.72,431.86 L457.74,437.00 L461.75,442.17 L465.76,447.39 L469.77,452.65 L473.79,457.95 L477.80,463.30 L481.81,468.69 L485.82,474.14 L489.84,479.63 L493.85,485.18 L497.86,490.78 L501.87,496.44 L505.89,502.16 L509.90,507.94 L513.91,513.79 L517.92,519.70 L521.93,525.68 L525.95,531.74 L529.96,537.87 L533.97,544.08 M216.99,178.73 L221.00,181.06 L225.02,183.45 L229.03,185.89 L233.04,188.40 L237.05,190.97 L241.07,193.61 L245.08,196.30 L249.09,199.06 L253.10,201.88 L257.12,204.77 L261.13,207.72 L265.14,210.73 L269.15,213.81 L273.17,216.95 L277.18,220.16 L281.19,223.42 L285.20,226.75 L289.22,230.15 L293.23,233.60 L297.24,237.12 L301.25,240.69 L305.26,244.33 L309.28,248.02 L313.29,251.78 L317.30,255.59 L321.31,259.45 L325.33,263.38 L329.34,267.35 L333.35,271.39 L337.36,275.47 L341.38,279.61 L345.39,283.80 L349.40,288.04 L353.41,292.33 L357.43,296.66 L361.44,301.05 L365.45,305.48 L369.46,309.96 L373.48,314.48 L377.49,319.05 L381.50,323.66 L385.51,328.32 L389.53,333.01 L393.54,337.75 L397.55,342.53 L401.56,347.35 L405.58,352.21 L409.59,357.11 L413.60,362.05 L417.61,367.03 L421.62,372.05 L425.64,377.10 L429.65,382.20 L433.66,387.33 L437.67,392.51 L441.69,397.72 L445.70,402.98 L449.71,408.27 L453.72,413.61 L457.74,418.99 L461.75,424.41 L465.76,429.87 L469.77,435.38 L473.79,440.94 L477.80,446.54 L481.81,452.19 L485.82,457.90 L489.84,463.66 L493.85,469.47 L497.86,475.34 L501.87,481.26 L505.89,487.26 L509.90,493.31 L513.91,499.43 L517.92,505.63 L521.93,511.89 L525.95,518.24 L529.96,524.66 L533.97,531.17 M216.99,149.80 L221.00,152.24 L225.02,154.73 L229.03,157.29 L233.04,159.91 L237.05,162.60 L241.07,165.35 L245.08,168.17 L249.09,171.05 L253.10,174.00 L257.12,177.02 L261.13,180.11 L265.14,183.26 L269.15,186.47 L273.17,189.76 L277.18,193.11 L281.19,196.53 L285.20,200.01 L289.22,203.55 L293.23,207.17 L297.24,210.84 L301.25,214.58 L305.26,218.38 L309.28,222.24 L313.29,226.17 L317.30,230.15 L321.31,234.19 L325.33,238.29 L329.34,242.45 L333.35,246.67 L337.36,250.94 L341.38,255.26 L345.39,259.64 L349.40,264.08 L353.41,268.56 L357.43,273.09 L361.44,277.68 L365.45,282.31 L369.46,286.99 L373.48,291.72 L377.49,296.50 L381.50,301.32 L385.51,306.18 L389.53,311.10 L393.54,316.05 L397.55,321.05 L401.56,326.08 L405.58,331.17 L409.59,336.29 L413.60,341.45 L417.61,346.66 L421.62,351.90 L425.64,357.19 L429.65,362.52 L433.66,367.89 L437.67,373.30 L441.69,378.75 L445.70,384.24 L449.71,389.78 L453.72,395.35 L457.74,400.98 L461.75,406.64 L465.76,412.36 L469.77,418.12 L473.79,423.93 L477.80,429.78 L481.81,435.69 L485.82,441.66 L489.84,447.68 L493.85,453.75 L497.86,459.89 L501.87,466.09 L505.89,472.35 L509.90,478.68 L513.91,485.08 L517.92,491.55 L521.93,498.11 L525.95,504.74 L529.96,511.46 L533.97,518.26" stroke="#111" stroke-width="3" fill="none" stroke-linejoin="round"/>
<text x="228.7" y="146.5" font-size="15.8" text-anchor="middle">23</text>
<text x="228.7" y="176.8" font-size="15.8" text-anchor="middle">22</text>
<text x="228.7" y="204.8" font-size="15.8" text-anchor="middle">21</text>
<text x="228.7" y="233.7" font-size="15.8" text-anchor="middle">20</text>
<text x="228.7" y="263.0" font-size="15.8" text-anchor="middle">19</text>
<text x="228.7" y="291.0" font-size="15.8" text-anchor="middle">18</text>
<text x="228.7" y="319.7" font-size="15.8" text-anchor="middle">17</text>
<text x="228.7" y="347.9" font-size="15.8" text-anchor="middle">16</text>
<text x="228.7" y="377.2" font-size="15.8" text-anchor="middle">15</text>
<text x="228.7" y="405.3" font-size="15.8" text-anchor="middle">14</text>
<text x="228.7" y="434.7" font-size="15.8" text-anchor="middle">13</text>
<text x="228.7" y="463.1" font-size="15.8" text-anchor="middle">12</text>
<text x="228.7" y="491.7" font-size="15.8" text-anchor="middle">11</text>
<text x="228.7" y="520.7" font-size="15.8" text-anchor="middle">10</text>
<text x="230.4" y="549.6" font-size="15.8" text-anchor="middle">9</text>
<text x="230.4" y="578.1" font-size="15.8" text-anchor="middle">8</text>
<text x="230.4" y="607.8" font-size="15.8" text-anchor="middle">7</text>
<text x="230.4" y="638.1" font-size="15.8" text-anchor="middle">6</text>
<text x="230.4" y="669.2" font-size="15.8" text-anchor="middle">5</text>
<text x="230.4" y="694.8" font-size="15.8" text-anchor="middle">4</text>
<text x="230.4" y="723.8" font-size="15.8" text-anchor="middle">3</text>
<path d="M90.3,80.9V814.95H618.5V81.9H89.3" stroke="#111" stroke-width="1.9" fill="none"/>
<path d="M90.20,48.8H618.50" stroke="#111" stroke-width="1.9" fill="none"/>
<path d="M90.20,864H618.50" stroke="#111" stroke-width="2.2" fill="none"/>
<path d="M90.20,42.1V48.8M114.20,42.1V48.8M138.20,42.1V48.8M162.19,42.1V48.8M186.19,42.1V48.8M210.19,42.1V48.8M234.19,42.1V48.8M258.19,42.1V48.8M282.18,42.1V48.8M306.18,42.1V48.8M330.18,42.1V48.8M354.18,42.1V48.8M378.18,42.1V48.8M402.17,42.1V48.8M426.17,42.1V48.8M450.17,42.1V48.8M474.17,42.1V48.8M498.17,42.1V48.8M522.16,42.1V48.8M546.16,42.1V48.8M570.16,42.1V48.8M594.16,42.1V48.8M618.16,42.1V48.8M90.20,74.8V81.7M119.02,74.8V81.7M147.84,74.8V81.7M176.66,74.8V81.7M205.48,74.8V81.7M234.30,74.8V81.7M263.12,74.8V81.7M291.94,74.8V81.7M320.76,74.8V81.7M349.58,74.8V81.7M378.40,74.8V81.7M407.22,74.8V81.7M436.04,74.8V81.7M464.86,74.8V81.7M493.68,74.8V81.7M522.51,74.8V81.7M551.33,74.8V81.7M580.15,74.8V81.7M608.97,74.8V81.7M90.20,856.6V864M121.90,856.6V864M153.60,856.6V864M185.29,856.6V864M216.99,856.6V864M248.69,856.6V864M280.39,856.6V864M312.09,856.6V864M343.78,856.6V864M375.48,856.6V864M407.18,856.6V864M438.88,856.6V864M470.58,856.6V864M502.27,856.6V864M533.97,856.6V864M565.67,856.6V864M597.37,856.6V864M90.20,864V871M128.24,864V871M166.28,864V871M204.31,864V871M242.35,864V871M280.39,864V871M318.43,864V871M356.46,864V871M394.50,864V871M432.54,864V871M470.58,864V871M508.61,864V871M546.65,864V871M584.69,864V871M618.50,815.20H626.6M618.50,782.33H626.6M618.50,749.47H626.6M618.50,716.60H626.6M618.50,683.74H626.6M618.50,650.87H626.6M618.50,618.01H626.6M618.50,585.14H626.6M618.50,552.28H626.6M618.50,519.41H626.6M618.50,486.55H626.6M618.50,453.68H626.6M618.50,420.82H626.6M618.50,387.95H626.6M618.50,355.09H626.6M618.50,322.22H626.6M618.50,289.36H626.6M618.50,256.49H626.6M618.50,223.63H626.6M618.50,190.76H626.6M618.50,157.90H626.6M618.50,125.03H626.6M618.50,92.17H626.6" stroke="#111" stroke-width="1.2" fill="none"/>
<path d="M84,815.20H90.20M84,599.55H90.20M84,383.90H90.20M84,168.25H90.20M84,81.99H90.20" stroke="#555" stroke-width="1.3" fill="none"/>
<text x="90.2" y="37" font-size="17" text-anchor="middle">0</text>
<text x="108.9" y="34.2" font-size="17" text-anchor="start">U.S. g.p.m.</text>
<text x="210.19" y="37" font-size="17" text-anchor="middle">50</text>
<text x="330.18" y="37" font-size="17" text-anchor="middle">100</text>
<text x="450.17" y="37" font-size="17" text-anchor="middle">150</text>
<text x="570.16" y="37" font-size="17" text-anchor="middle">200</text>
<text x="90.2" y="72" font-size="17" text-anchor="middle">0</text>
<text x="124" y="68.8" font-size="17" text-anchor="start">Imp. g.p.m.</text>
<text x="234.30" y="72" font-size="17" text-anchor="middle">50</text>
<text x="378.40" y="72" font-size="17" text-anchor="middle">100</text>
<text x="522.51" y="72" font-size="17" text-anchor="middle">150</text>
<text x="80.2" y="821.20" font-size="17" text-anchor="end">0</text>
<text x="80.2" y="604.80" font-size="17" text-anchor="end">100</text>
<text x="80.2" y="388.70" font-size="17" text-anchor="end">200</text>
<text x="80.2" y="172.90" font-size="17" text-anchor="end">300</text>
<text x="80.2" y="88.90" font-size="17" text-anchor="end">340</text>
<text x="65" y="276.8" font-size="17.5" text-anchor="middle" font-weight="bold">H</text>
<text x="65" y="300" font-size="16.5" text-anchor="middle">m</text>
<text x="632" y="819.90" font-size="17" text-anchor="start">0</text>
<text x="632" y="688.44" font-size="17" text-anchor="start">200</text>
<text x="632" y="556.98" font-size="17" text-anchor="start">400</text>
<text x="632" y="425.52" font-size="17" text-anchor="start">600</text>
<text x="632" y="294.06" font-size="17" text-anchor="start">800</text>
<text x="632" y="162.60" font-size="17" text-anchor="start">1000</text>
<text x="649" y="203.8" font-size="17.5" text-anchor="middle" font-weight="bold">H</text>
<text x="649" y="229.3" font-size="16" text-anchor="middle">ft</text>
<text x="90.20" y="833" font-size="17" text-anchor="middle">0</text>
<text x="195.86" y="833" font-size="17" text-anchor="middle">10</text>
<text x="301.52" y="833" font-size="17" text-anchor="middle">20</text>
<text x="407.18" y="833" font-size="17" text-anchor="middle">30</text>
<text x="512.84" y="833" font-size="17" text-anchor="middle">40</text>
<text x="618.50" y="833" font-size="17" text-anchor="middle">50</text>
<text x="90.2" y="853.5" font-size="17" text-anchor="middle">0</text>
<text x="217.8" y="853.5" font-size="17" text-anchor="middle">200</text>
<text x="342.9" y="853.5" font-size="17" text-anchor="middle">400</text>
<text x="468.9" y="853.5" font-size="17" text-anchor="middle">600</text>
<text x="594.4" y="853.5" font-size="17" text-anchor="middle">800</text>
<text x="115.7" y="843.6" font-size="17.5" text-anchor="middle" font-weight="bold" style="stroke-width:0.55px">Q</text>
<text x="131.8" y="835.8" font-size="16" text-anchor="start">m<tspan font-size="8.5" dy="-4.3">3</tspan><tspan dy="4.3">/h</tspan></text>
<text x="132.3" y="849.8" font-size="16" text-anchor="start">l/min</text>
<text x="90.2" y="889.5" font-size="17" text-anchor="middle">0</text>
<text x="135.4" y="892" font-size="17" text-anchor="start" textLength="18" lengthAdjust="spacing">l/s</text>
<text x="280.39" y="889.5" font-size="17" text-anchor="middle">5</text>
<text x="470.58" y="889.5" font-size="17" text-anchor="middle">10</text>
<text x="613.9" y="885.3" font-size="9" text-anchor="end">72.1039</text>
<text x="442.2" y="158.6" font-size="28" text-anchor="start" font-weight="bold" textLength="118.2" lengthAdjust="spacingAndGlyphs">6SDS 32</text>
<text x="412.5" y="187.4" font-size="28" text-anchor="start" font-weight="bold" textLength="148.2" lengthAdjust="spacingAndGlyphs">B-6SDS 32</text>
<text x="354.6" y="215.8" font-size="16" text-anchor="start" textLength="249.6" lengthAdjust="spacingAndGlyphs">Насосы для особых применений</text>
<text x="356.2" y="235.8" font-size="16" text-anchor="start" textLength="245.5" lengthAdjust="spacing">с высоким содержанием песка</text>
</svg></body></html>
